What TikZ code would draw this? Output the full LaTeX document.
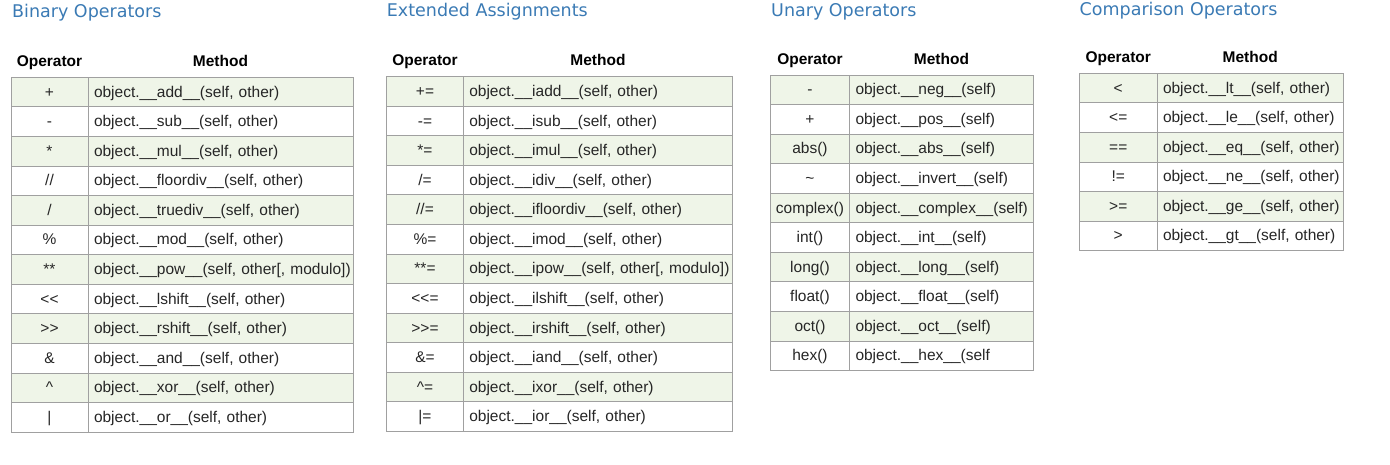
\documentclass[tikz,border=0pt]{standalone}
\usepackage{fontspec}
\setmainfont{Liberation Sans}
\newfontfamily\titlefont{DejaVu Sans}
\definecolor{titleblue}{RGB}{58,122,180}
\definecolor{rowgreen}{RGB}{239,245,232}
\definecolor{cellgray}{RGB}{160,160,160}
\tikzset{
  cell/.style={draw=cellgray, line width=1pt, inner sep=0pt, minimum height=29.57pt,
    text height=12pt, text depth=2pt, font=\fontsize{15.5}{18}\selectfont, text=black!85},
  headtext/.style={anchor=base, inner sep=0pt, font=\bfseries\fontsize{15.5}{18}\selectfont, text=black},
  titletext/.style={anchor=base west, inner sep=0pt, font=\titlefont\fontsize{17.5}{21}\selectfont, text=titleblue}
}
\newcommand\settable[5]{% left, divider, right, top, prefix
  \def\TT{#4}%
  \pgfmathsetmacro\XO{(#1+#2)/2}%
  \pgfmathsetmacro\XM{(#2+#3)/2}%
  \pgfmathsetmacro\WO{#2-#1}%
  \pgfmathsetmacro\WM{#3-#2}%
  \pgfmathsetmacro\WT{#3-#2-12}%
  \pgfmathsetmacro\HY{#4-10.8}%
  \node[headtext] (#5hop) at (\XO,\HY) {Operator};
  \node[headtext] (#5hm) at (\XM,\HY) {Method};
}
\newcommand\mkrow[4]{% prefix, index, operator, method
  \pgfmathsetmacro\ym{\TT+(#2-0.5)*29.57}%
  \ifodd#2\relax\def\rf{rowgreen}\else\def\rf{white}\fi
  \node[cell, fill=\rf, minimum width=\WO pt] (#1op#2) at (\XO,\ym) {#3};
  \node[cell, fill=\rf, minimum width=\WM pt, text width=\WT pt, align=left, inner xsep=6pt] (#1m#2) at (\XM,\ym) {\mbox{#4}};
}
\begin{document}
\begin{tikzpicture}[x=1pt,y=-1pt]
\useasboundingbox (0,0) rectangle (1390,464);
% titles
\node[titletext] (t1title) at (12,17) {Binary Operators};
\node[titletext] (t2title) at (386.7,16.5) {Extended Assignments};
\node[titletext] (t3title) at (771,16) {Unary Operators};
\node[titletext] (t4title) at (1079.5,15) {Comparison Operators};
% table 1
\settable{11}{88}{353}{77.3}{t1}
\mkrow{t1}{1}{+}{object.\_\_add\_\_(self, other)}
\mkrow{t1}{2}{-}{object.\_\_sub\_\_(self, other)}
\mkrow{t1}{3}{*}{object.\_\_mul\_\_(self, other)}
\mkrow{t1}{4}{//}{object.\_\_floordiv\_\_(self, other)}
\mkrow{t1}{5}{/}{object.\_\_truediv\_\_(self, other)}
\mkrow{t1}{6}{\%}{object.\_\_mod\_\_(self, other)}
\mkrow{t1}{7}{**}{object.\_\_pow\_\_(self, other[, modulo])}
\mkrow{t1}{8}{<\kern0pt<}{object.\_\_lshift\_\_(self, other)}
\mkrow{t1}{9}{>\kern0pt>}{object.\_\_rshift\_\_(self, other)}
\mkrow{t1}{10}{\&}{object.\_\_and\_\_(self, other)}
\mkrow{t1}{11}{\textasciicircum}{object.\_\_xor\_\_(self, other)}
\mkrow{t1}{12}{|}{object.\_\_or\_\_(self, other)}
% table 2
\settable{386.7}{463.3}{732.7}{76.7}{t2}
\mkrow{t2}{1}{+=}{object.\_\_iadd\_\_(self, other)}
\mkrow{t2}{2}{-=}{object.\_\_isub\_\_(self, other)}
\mkrow{t2}{3}{*=}{object.\_\_imul\_\_(self, other)}
\mkrow{t2}{4}{/=}{object.\_\_idiv\_\_(self, other)}
\mkrow{t2}{5}{//=}{object.\_\_ifloordiv\_\_(self, other)}
\mkrow{t2}{6}{\%=}{object.\_\_imod\_\_(self, other)}
\mkrow{t2}{7}{**=}{object.\_\_ipow\_\_(self, other[, modulo])}
\mkrow{t2}{8}{<\kern0pt<=}{object.\_\_ilshift\_\_(self, other)}
\mkrow{t2}{9}{>\kern0pt>=}{object.\_\_irshift\_\_(self, other)}
\mkrow{t2}{10}{\&=}{object.\_\_iand\_\_(self, other)}
\mkrow{t2}{11}{\textasciicircum=}{object.\_\_ixor\_\_(self, other)}
\mkrow{t2}{12}{|=}{object.\_\_ior\_\_(self, other)}
% table 3
\settable{770.5}{849.5}{1033.5}{75}{t3}
\mkrow{t3}{1}{-}{object.\_\_neg\_\_(self)}
\mkrow{t3}{2}{+}{object.\_\_pos\_\_(self)}
\mkrow{t3}{3}{abs()}{object.\_\_abs\_\_(self)}
\mkrow{t3}{4}{\textasciitilde}{object.\_\_invert\_\_(self)}
\mkrow{t3}{5}{complex()}{object.\_\_complex\_\_(self)}
\mkrow{t3}{6}{int()}{object.\_\_int\_\_(self)}
\mkrow{t3}{7}{long()}{object.\_\_long\_\_(self)}
\mkrow{t3}{8}{float()}{object.\_\_float\_\_(self)}
\mkrow{t3}{9}{oct()}{object.\_\_oct\_\_(self)}
\mkrow{t3}{10}{hex()}{object.\_\_hex\_\_(self}
% table 4
\settable{1079.5}{1157}{1343.5}{73.3}{t4}
\mkrow{t4}{1}{<}{object.\_\_lt\_\_(self, other)}
\mkrow{t4}{2}{<=}{object.\_\_le\_\_(self, other)}
\mkrow{t4}{3}{==}{object.\_\_eq\_\_(self, other)}
\mkrow{t4}{4}{!=}{object.\_\_ne\_\_(self, other)}
\mkrow{t4}{5}{>=}{object.\_\_ge\_\_(self, other)}
\mkrow{t4}{6}{>}{object.\_\_gt\_\_(self, other)}
\end{tikzpicture}
\end{document}
